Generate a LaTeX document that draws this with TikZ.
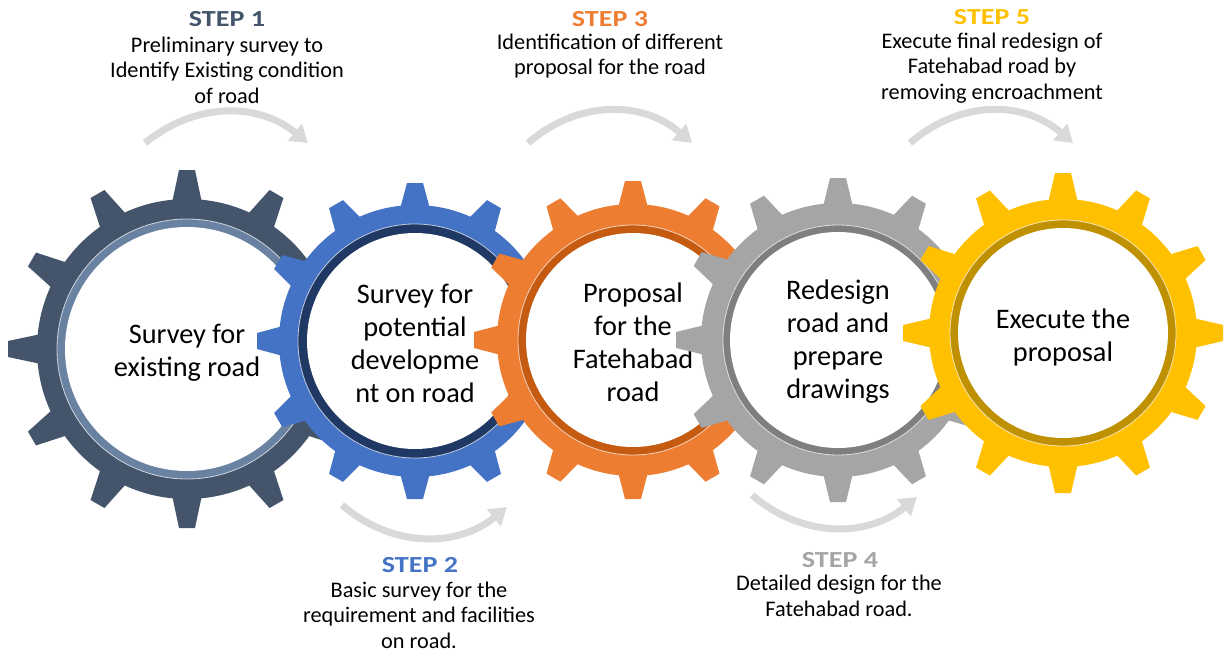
\documentclass[tikz,border=0pt]{standalone}
\usepackage{fontspec}
\setmainfont{Carlito}
\newfontfamily\titlefont[FakeStretch=1.22]{Carlito}
\usetikzlibrary{arrows.meta}

\definecolor{slate}{HTML}{44546A}
\definecolor{slatering}{HTML}{6A82A2}
\definecolor{blue1}{HTML}{4472C4}
\definecolor{bluering}{HTML}{203864}
\definecolor{orange1}{HTML}{ED7D31}
\definecolor{orangering}{HTML}{C55A11}
\definecolor{grey1}{HTML}{A5A5A5}
\definecolor{greyring}{HTML}{7F7F7F}
\definecolor{gold1}{HTML}{FFC000}
\definecolor{goldring}{HTML}{BF9000}
\definecolor{arrowgrey}{HTML}{D9D9D9}

\begin{document}
\begin{tikzpicture}[x=1pt,y=-1pt,
  steptitle/.style={font=\titlefont\bfseries\fontsize{23}{25}\selectfont},
  stepnote/.style={align=center,font=\fontsize{22.3}{25.5}\selectfont},
  geartext/.style={align=center,font=\fontsize{28.3}{33}\selectfont},
  turn/.style={draw=arrowgrey,line width=7pt,-{Triangle[length=17pt,width=21pt]}}]
\useasboundingbox (0,0) rectangle (1225,653);

% gears from left to right, each one lies over the one before
\foreach \name/\cx/\cy/\ty/\tipr/\rootr/\outr/\inr/\body/\ring/\txt in {
  g1/187/349/353/179/150/130/122/slate/slatering/{Survey for\\existing road},
  g2/415/341/343/158/136/117/108/blue1/bluering/{Survey for\\potential\\developme\\nt on road},
  g3/633/340/342/159/136/115/107/orange1/orangering/{Proposal\\for the\\Fatehabad\\road},
  g4/838/340/342/162/137/115/108/grey1/greyring/{Redesign\\road and\\prepare\\drawings},
  g5/1063/333/337/160/134/113/105/gold1/goldring/{Execute the\\proposal}}{
  \begin{scope}[shift={(\cx,\cy)}]
    \fill[\body] (0,0) circle (\rootr pt);
    \foreach \a in {0,30,...,330}
      \fill[\body,rotate=\a] (\rootr-4,-15) -- (\tipr,-8) -- (\tipr,8) -- (\rootr-4,15) -- cycle;
    \fill[\ring] (0,0) circle (\outr pt);
    \draw[white,line width=0.8pt,opacity=0.7] (0,0) circle (\outr pt);
    \fill[white] (0,0) circle (\inr pt);
  \end{scope}
  \node[geartext] (\name) at (\cx,\ty) {\txt};
}

\node[steptitle,text=slate] (s1) at (227,19) {STEP 1};
\node[stepnote] (n1) at (227,70) {Preliminary survey to\\Identify Existing condition\\of road};
\node[steptitle,text=blue1] (s2) at (420,565) {STEP 2};
\node[stepnote] (n2) at (419,615) {Basic survey for the\\requirement and facilities\\on road.};
\node[steptitle,text=orange1] (s3) at (610,19) {STEP 3};
\node[stepnote] (n3) at (610,56) {Identification of different\\proposal for the road};
\node[steptitle,text=grey1] (s4) at (840,560) {STEP 4};
\node[stepnote] (n4) at (839,596) {Detailed design for the\\Fatehabad road.};
\node[steptitle,text=gold1] (s5) at (992,17) {STEP 5};
\node[stepnote] (n5) at (992,68) {Execute final redesign of\\Fatehabad road by\\removing encroachment};

\coordinate (a1) at (145,143);
\coordinate (b1) at (308,143);
\coordinate (a3) at (528,143);
\coordinate (b3) at (692,143);
\coordinate (a5) at (910,143);
\coordinate (b5) at (1073,143);
\coordinate (a2) at (342,505);
\coordinate (b2) at (507,507);
\coordinate (a4) at (752,495);
\coordinate (b4) at (917,497);

\draw[turn] (a1) .. controls (195,102) and (258,102) .. (b1);
\draw[turn] (a3) .. controls (578,100) and (642,100) .. (b3);
\draw[turn] (a5) .. controls (960,100) and (1023,100) .. (b5);
\draw[turn] (a2) .. controls (392,548) and (457,548) .. (b2);
\draw[turn] (a4) .. controls (802,538) and (867,538) .. (b4);
\end{tikzpicture}
\end{document}
